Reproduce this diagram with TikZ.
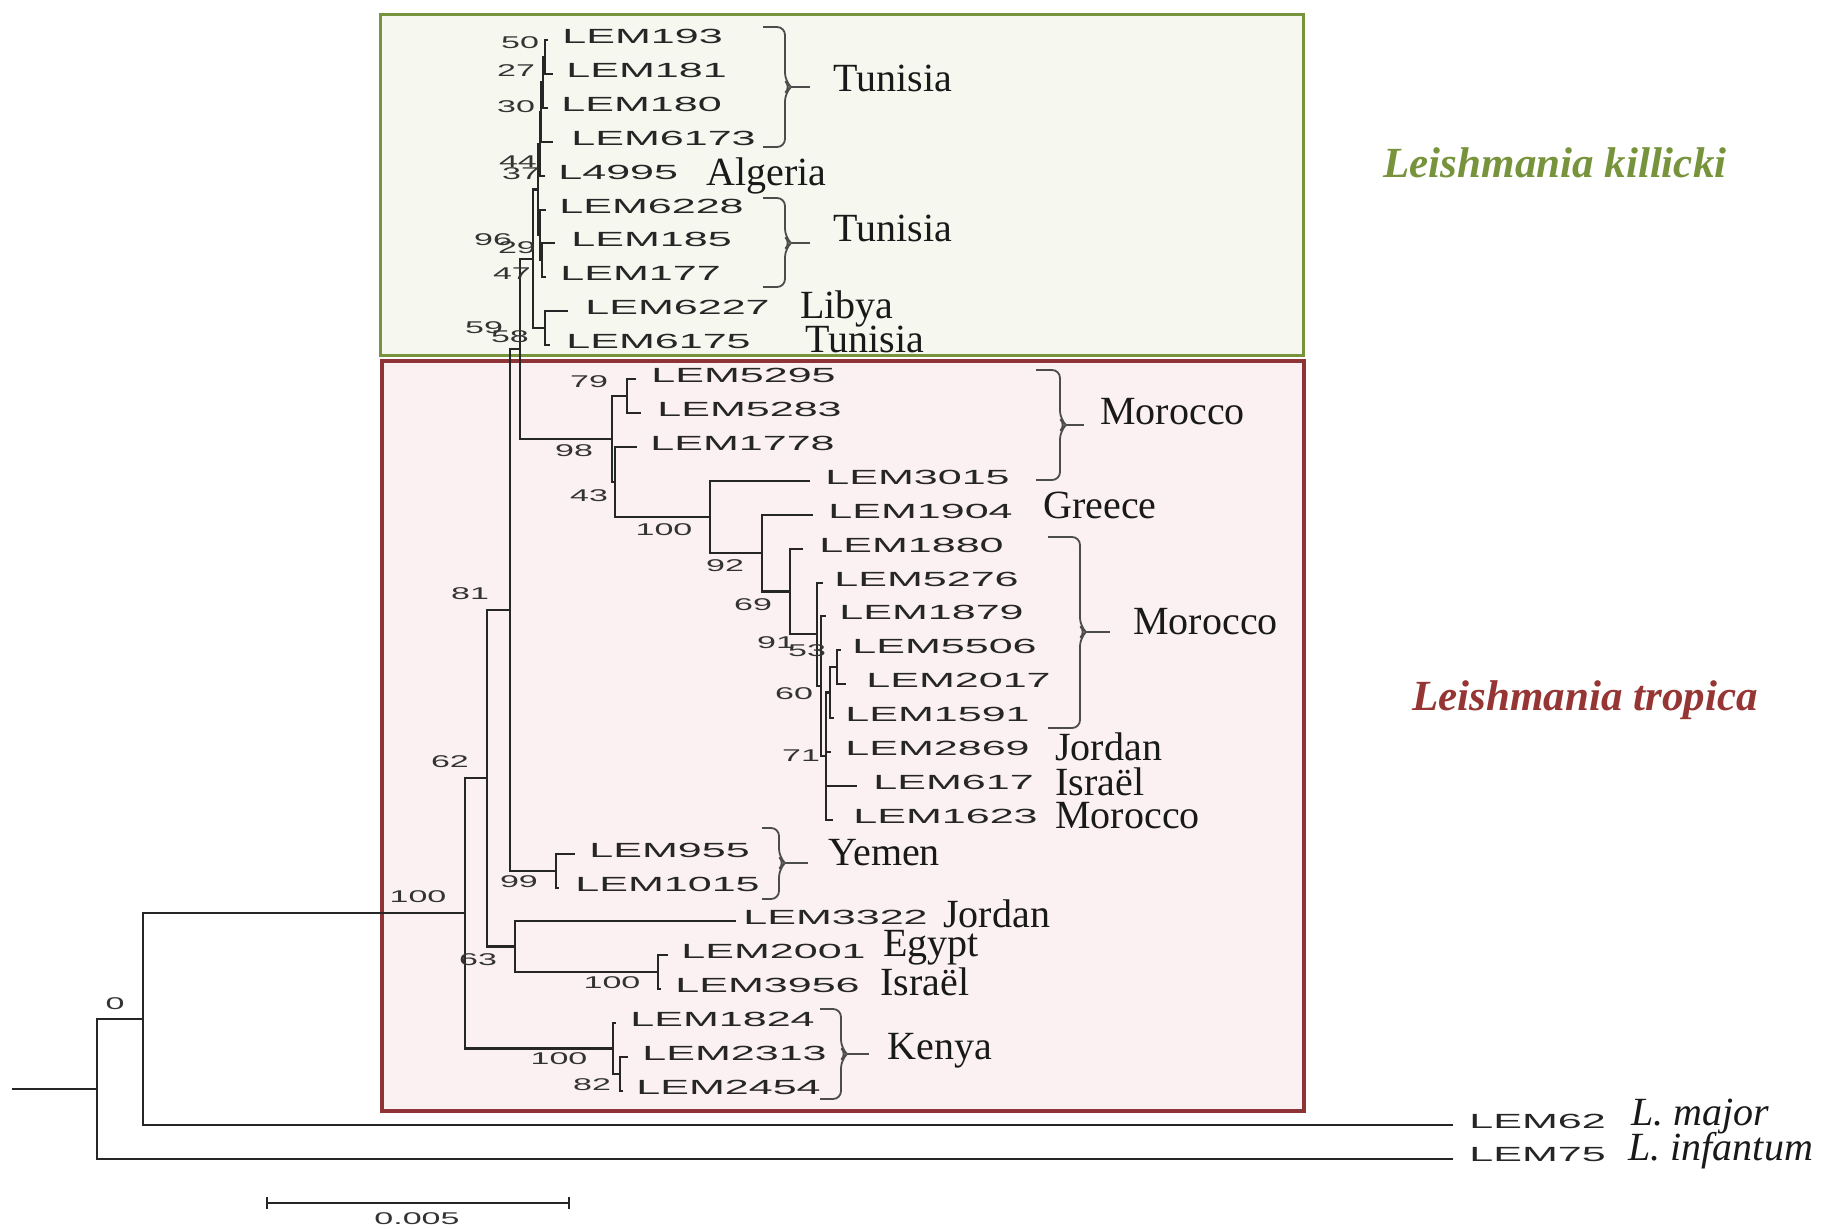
\documentclass[tikz,border=0pt]{standalone}
\usepackage{fontspec}
\setmainfont{Liberation Serif}
\newfontfamily\arialf{Liberation Sans}
\usepackage{graphicx}
\definecolor{kgreen}{HTML}{77933C}
\definecolor{kfill}{HTML}{F6F8F0}
\definecolor{tred}{HTML}{963634}
\definecolor{tborder}{HTML}{8E3336}
\definecolor{tfill}{HTML}{FBF1F2}
\newcommand\lw[1]{\scalebox{2.1}[1]{#1}}
\newcommand\bw[1]{\scalebox{2.0}[1]{#1}}
\newcommand\leaf[5]{\coordinate (#1) at (#2,#3);\node[lem] (t#1) at (#4,#3-4) {\lw{#5}};}
\newcommand\cbrace[6]{\draw[brc, rounded corners=4] (#1,#3) -- (#2,#3) -- (#2,#6-6) -- (#2+6,#6) -- (#2,#6+6) -- (#2,#4) -- (#1,#4); \draw[brc] (#2+6,#6) -- (#5,#6);}
\begin{document}
\begin{tikzpicture}[x=0.5pt,y=-0.5pt,
  br/.style={line width=1.2pt, draw=black!85},
  brc/.style={line width=0.9pt, draw=black!70},
  lem/.style={anchor=west, inner sep=0pt, text=black!85, font=\arialf\fontsize{10.25}{11}\selectfont},
  bs/.style={inner sep=0pt, text=black!80, font=\arialf\fontsize{8.5}{9}\selectfont},
  cty/.style={anchor=base west, inner sep=0pt, text=black!90, font=\fontsize{20}{24}\selectfont},
  spc/.style={inner sep=0pt, font=\fontsize{21.5}{25}\selectfont\bfseries\itshape}]
\useasboundingbox (0,0) rectangle (1837,1229);
\fill[white] (0,0) rectangle (1837,1229);
% boxes
\draw[line width=1.5pt, draw=kgreen, fill=kfill] (380,15) rectangle (1303,356);
\draw[line width=2pt, draw=tborder, fill=tfill] (382,361) rectangle (1304,1111);
% leaves
\leaf{L193}{548}{40}{562}{LEM193}
\leaf{L181}{553}{74}{566}{LEM181}
\leaf{L180}{548}{108}{561}{LEM180}
\leaf{L6173}{553}{142}{571}{LEM6173}
\leaf{L4995}{545}{176}{558}{L4995}
\leaf{L6228}{546}{210}{559}{LEM6228}
\leaf{L185}{555}{243}{571}{LEM185}
\leaf{L177}{546}{277}{560}{LEM177}
\leaf{L6227}{568}{311}{585}{LEM6227}
\leaf{L6175}{550}{345}{566}{LEM6175}
\leaf{L5295}{636}{379}{651}{LEM5295}
\leaf{L5283}{641}{413}{657}{LEM5283}
\leaf{L1778}{637}{447}{650}{LEM1778}
\leaf{L3015}{810}{481}{825}{LEM3015}
\leaf{L1904}{813}{515}{828}{LEM1904}
\leaf{L1880}{803}{549}{819}{LEM1880}
\leaf{L5276}{823}{583}{834}{LEM5276}
\leaf{L1879}{826}{616}{839}{LEM1879}
\leaf{L5506}{841}{650}{852}{LEM5506}
\leaf{L2017}{846}{684}{866}{LEM2017}
\leaf{L1591}{834}{718}{845}{LEM1591}
\leaf{L2869}{831}{752}{845}{LEM2869}
\leaf{L617}{857}{786}{873}{LEM617}
\leaf{L1623}{833}{820}{853}{LEM1623}
\leaf{L955}{575}{854}{589}{LEM955}
\leaf{L1015}{559}{888}{575}{LEM1015}
\leaf{L3322}{736}{921}{743}{LEM3322}
\leaf{L2001}{668}{955}{681}{LEM2001}
\leaf{L3956}{661}{989}{675}{LEM3956}
\leaf{L1824}{616}{1023}{630}{LEM1824}
\leaf{L2313}{628}{1057}{642}{LEM2313}
\leaf{L2454}{623}{1091}{636}{LEM2454}
\leaf{L62}{1453}{1125}{1469}{LEM62}
\leaf{L75}{1453}{1159}{1469}{LEM75}
% internal nodes
\coordinate (n50) at (545,57);
\coordinate (n27) at (543,82.5);
\coordinate (n30) at (541,112.25);
\coordinate (n44) at (540,144.1);
\coordinate (n29) at (542,260);
\coordinate (n47) at (540,235);
\coordinate (n37) at (538,189.6);
\coordinate (nLi) at (545,328);
\coordinate (n96) at (533,258.8);
\coordinate (n59) at (520,349);
\coordinate (n79) at (627,396);
\coordinate (nA) at (837,667);
\coordinate (n60) at (830,692.5);
\coordinate (n71) at (826,756);
\coordinate (n53) at (821,686);
\coordinate (n91) at (817,634);
\coordinate (n69) at (790,591.5);
\coordinate (n92) at (762,553);
\coordinate (n100a) at (710,517);
\coordinate (n43) at (615,482);
\coordinate (n98) at (612,439);
\coordinate (n99) at (556,871);
\coordinate (n81) at (510,610);
\coordinate (nEI) at (658,972);
\coordinate (n63) at (515,946.5);
\coordinate (n62) at (487,778);
\coordinate (n82) at (620,1074);
\coordinate (nK) at (613,1048.5);
\coordinate (n100r) at (465,913);
\coordinate (n0) at (143,1019);
\coordinate (nR) at (97,1089);
\coordinate (stem) at (12,1089);
% branches
\draw[br] (n50) |- (L193) (n50) |- (L181) (n27) |- (n50) (n27) |- (L180)
  (n30) |- (n27) (n30) |- (L6173) (n44) |- (n30) (n44) |- (L4995)
  (n29) |- (L185) (n29) |- (L177) (n47) |- (L6228) (n47) |- (n29)
  (n37) |- (n44) (n37) |- (n47) (nLi) |- (L6227) (nLi) |- (L6175)
  (n96) |- (n37) (n96) |- (nLi) (n59) |- (n96) (n59) |- (n98);
\draw[br] (n79) |- (L5295) (n79) |- (L5283) (n98) |- (n79) (n98) |- (n43)
  (n43) |- (L1778) (n43) |- (n100a) (n100a) |- (L3015) (n100a) |- (n92)
  (n92) |- (L1904) (n92) |- (n69) (n69) |- (L1880) (n69) |- (n91)
  (n91) |- (L5276) (n91) |- (n53) (n53) |- (L1879) (n53) |- (n71)
  (n71) |- (n60) (n71) |- (L2869) (n71) |- (L617) (n71) |- (L1623)
  (n60) |- (nA) (n60) |- (L1591) (nA) |- (L5506) (nA) |- (L2017);
\draw[br] (n81) |- (n59) (n81) |- (n99) (n99) |- (L955) (n99) |- (L1015)
  (n62) |- (n81) (n62) |- (n63) (n63) |- (L3322) (n63) |- (nEI)
  (nEI) |- (L2001) (nEI) |- (L3956) (n100r) |- (n62) (n100r) |- (nK)
  (nK) |- (L1824) (nK) |- (n82) (n82) |- (L2313) (n82) |- (L2454)
  (n0) |- (n100r) (n0) |- (L62) (nR) |- (n0) (nR) |- (L75) (stem) -- (nR);
% bootstrap values
\node[bs] (b50) at (520,43) {\bw{50}};
\node[bs] (b27) at (516,71) {\bw{27}};
\node[bs] (b30) at (516,107) {\bw{30}};
\node[bs] (b44) at (518,162) {\bw{44}};
\node[bs] (b37) at (521,174) {\bw{37}};
\node[bs] (b96) at (493,240) {\bw{96}};
\node[bs] (b29) at (517,248) {\bw{29}};
\node[bs] (b47) at (512,274) {\bw{47}};
\node[bs] (b59) at (484,328) {\bw{59}};
\node[bs] (b58) at (510,337) {\bw{58}};
\node[bs] (b79) at (589,382) {\bw{79}};
\node[bs] (b98) at (574,451) {\bw{98}};
\node[bs] (b43) at (589,496) {\bw{43}};
\node[bs] (b100a) at (664,530) {\bw{100}};
\node[bs] (b92) at (725,566) {\bw{92}};
\node[bs] (b69) at (753,605) {\bw{69}};
\node[bs] (b91) at (776,643) {\bw{91}};
\node[bs] (b53) at (807,651) {\bw{53}};
\node[bs] (b60) at (794,694) {\bw{60}};
\node[bs] (b71) at (801,756) {\bw{71}};
\node[bs] (b81) at (470,594) {\bw{81}};
\node[bs] (b62) at (450,762) {\bw{62}};
\node[bs] (b100r) at (418,897) {\bw{100}};
\node[bs] (b63) at (478,960) {\bw{63}};
\node[bs] (b99) at (519,882) {\bw{99}};
\node[bs] (b100e) at (612,983) {\bw{100}};
\node[bs] (b100k) at (559,1059) {\bw{100}};
\node[bs] (b82) at (592,1085) {\bw{82}};
\node[bs] (b0) at (115,1004) {\bw{0}};
% braces
\cbrace{763}{785}{27}{147}{810}{87}
\cbrace{763}{785}{198}{287}{810}{243}
\cbrace{1036}{1060}{370}{480}{1084}{425}
\cbrace{1048}{1080}{537}{728}{1110}{632}
\cbrace{762}{779}{828}{899}{808}{863}
\cbrace{820}{841}{1009}{1099}{869}{1054}
% countries
\node[cty] (cT1) at (833,92) {Tunisia};
\node[cty] (cAl) at (706,186) {Algeria};
\node[cty] (cT2) at (833,242) {Tunisia};
\node[cty] (cLi) at (800,319) {Libya};
\node[cty] (cT3) at (805,353) {Tunisia};
\node[cty] (cM1) at (1100,425) {Morocco};
\node[cty] (cGr) at (1043,519) {Greece};
\node[cty] (cM2) at (1133,635) {Morocco};
\node[cty] (cJ1) at (1055,760) {Jordan};
\node[cty] (cI1) at (1055,795) {Israël};
\node[cty] (cM3) at (1055,828) {Morocco};
\node[cty] (cYe) at (828,865) {Yemen};
\node[cty] (cJ2) at (943,927) {Jordan};
\node[cty] (cEg) at (883,956) {Egypt};
\node[cty] (cI2) at (880,995) {Israël};
\node[cty] (cKe) at (887,1059) {Kenya};
\node[cty, font=\fontsize{20}{24}\selectfont\itshape] (cLm) at (1631,1125) {L. major};
\node[cty, font=\fontsize{20}{24}\selectfont\itshape] (cLi2) at (1628,1160) {L. infantum};
% species
\node[spc, text=kgreen] (sK) at (1555,163) {Leishmania killicki};
\node[spc, text=tred] (sT) at (1585,700) {Leishmania tropica};
% scale bar
\coordinate (sb1) at (267,1203);
\coordinate (sb2) at (569,1203);
\draw[br] (sb1) -- (sb2);
\draw[br] (sb1) ++(0,-6) -- ++(0,12);
\draw[br] (sb2) ++(0,-6) -- ++(0,12);
\node[bs] (sbl) at (417,1219) {\bw{0.005}};
\end{tikzpicture}
\end{document}
